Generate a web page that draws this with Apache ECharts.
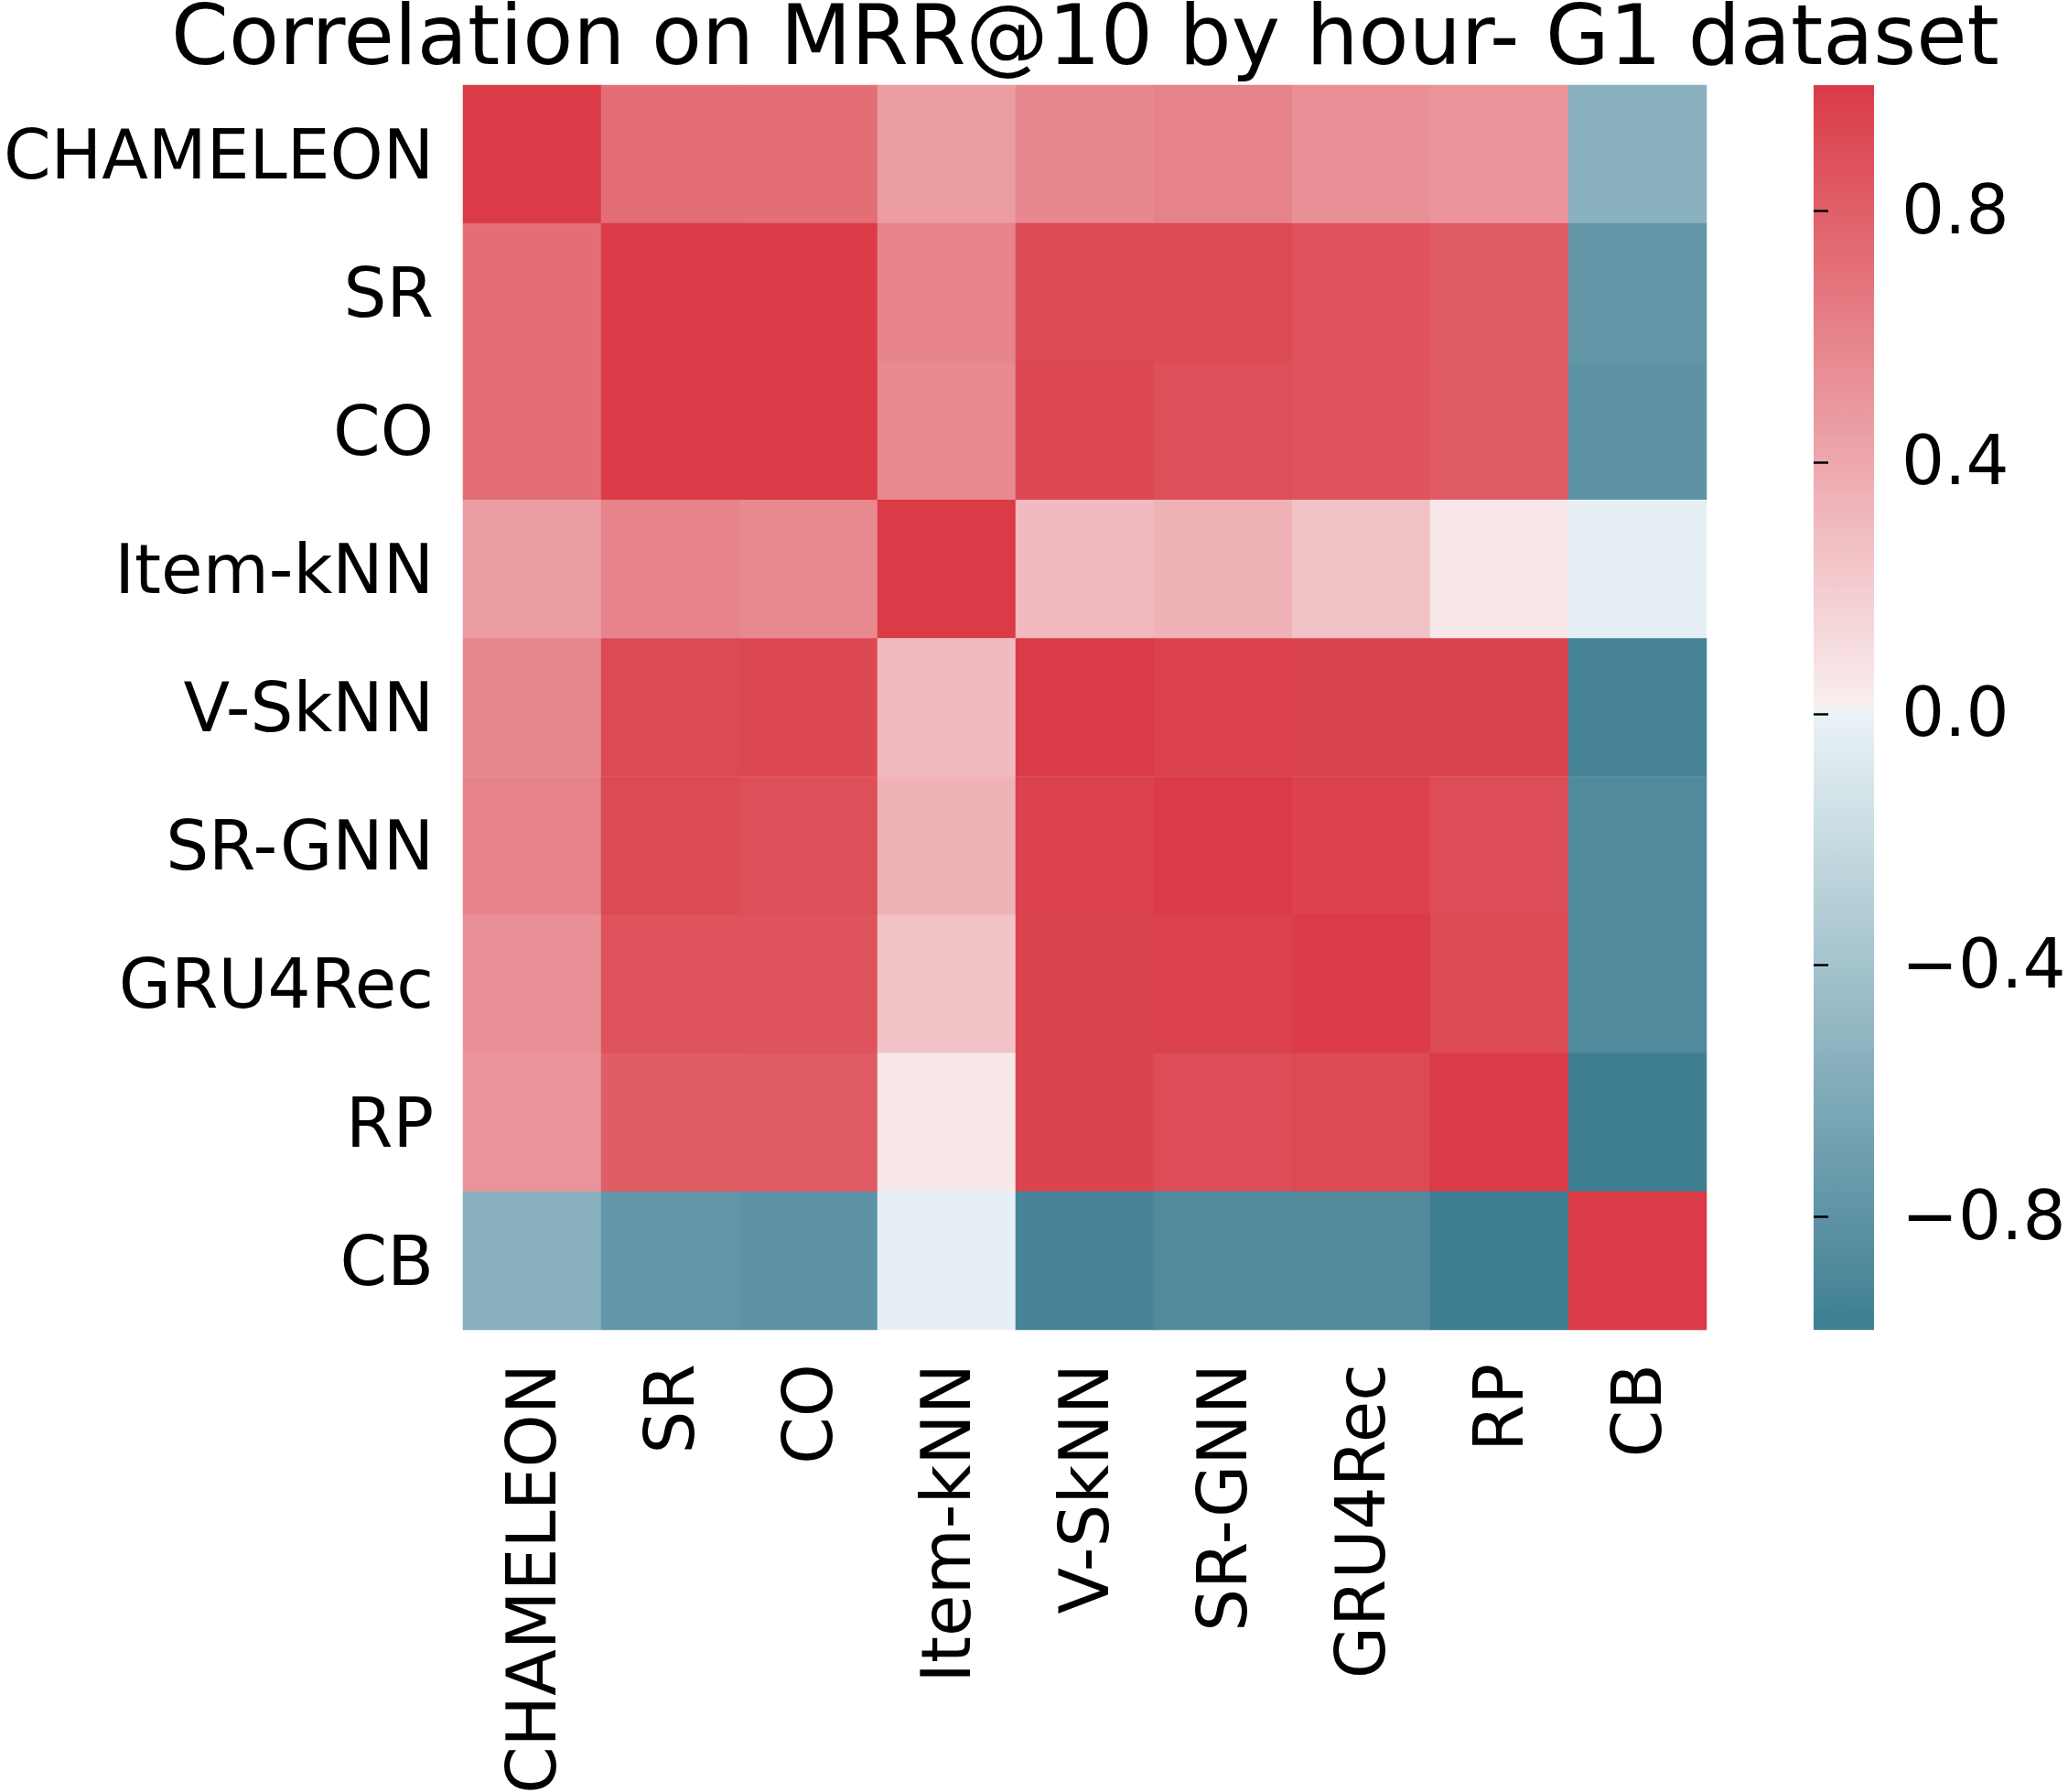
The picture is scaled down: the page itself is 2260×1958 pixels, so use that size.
<!DOCTYPE html>
<html style="height: 100%">

<head>
  <meta charset="utf-8">
</head>

<body style="height: 100%; margin: 0; background: #ffffff">
  <div id="container" style="height: 100%"></div>
  <script type="text/javascript" src="https://cdn.jsdelivr.net/npm/echarts@6/dist/echarts.min.js"></script>
  <script type="text/javascript">
    var methods = ['CHAMELEON', 'SR', 'CO', 'Item-kNN', 'V-SkNN', 'SR-GNN', 'GRU4Rec', 'RP', 'CB'];

    // correlation rows, same order as methods
    var rowChameleon = [1.00, 0.72, 0.72, 0.46, 0.58, 0.61, 0.53, 0.51, -0.55];
    var rowSR        = [0.72, 1.00, 0.99, 0.60, 0.92, 0.92, 0.87, 0.81, -0.77];
    var rowCO        = [0.72, 0.99, 1.00, 0.57, 0.93, 0.89, 0.87, 0.82, -0.80];
    var rowItemKNN   = [0.46, 0.60, 0.57, 1.00, 0.30, 0.34, 0.25, 0.05, -0.02];
    var rowVSkNN     = [0.58, 0.92, 0.93, 0.30, 1.00, 0.96, 0.95, 0.95, -0.93];
    var rowSRGNN     = [0.61, 0.92, 0.89, 0.34, 0.96, 1.00, 0.96, 0.90, -0.88];
    var rowGRU4Rec   = [0.53, 0.87, 0.87, 0.25, 0.95, 0.96, 1.00, 0.92, -0.88];
    var rowRP        = [0.51, 0.81, 0.82, 0.05, 0.95, 0.90, 0.92, 1.00, -0.98];
    var rowCB        = [-0.55, -0.77, -0.80, -0.02, -0.93, -0.88, -0.88, -0.98, 1.00];

    var colorbarTicks = [-0.8, -0.4, 0, 0.4, 0.8];
    var colorMin = -0.98;
    var colorMax = 1.0;

    var corr = [rowChameleon, rowSR, rowCO, rowItemKNN, rowVSkNN, rowSRGNN, rowGRU4Rec, rowRP, rowCB];

    // diverging palette 220 -> 10, light centre (two rgb ramps + grey middle)
    var blueEnd = [62, 126, 146];
    var blueLight = [234, 243, 246];
    var midGrey = [242, 242, 242];
    var redLight = [249, 237, 238];
    var redEnd = [218, 59, 70];

    function mix(a, b, t) {
      var c = [];
      for (var k = 0; k < 3; k++) c.push(Math.round(a[k] + (b[k] - a[k]) * t));
      return 'rgb(' + c.join(',') + ')';
    }

    var cmap = [];
    for (var i = 0; i < 127; i++) cmap.push(mix(blueEnd, blueLight, i / 126));
    cmap.push(mix(midGrey, midGrey, 0));
    for (var i = 0; i < 127; i++) cmap.push(mix(redLight, redEnd, i / 126));

    var barStops = [];
    for (var i = cmap.length - 1; i >= 0; i--) {
      barStops.push({ offset: 1 - i / (cmap.length - 1), color: cmap[i] });
    }

    var cells = [];
    for (var r = 0; r < methods.length; r++) {
      for (var c = 0; c < methods.length; c++) {
        cells.push([c, r, corr[r][c]]);
      }
    }

    var font = 'DejaVu Sans';
    // rich styles: top padding nudges the glyphs to sit like matplotlib's labels
    function labelStyle(pad) {
      return { fontFamily: font, fontSize: 74, color: '#000', padding: [pad, 0, 0, 0] };
    }

    var dom = document.getElementById('container');
    var myChart = echarts.init(dom);

    var option = {
      backgroundColor: '#ffffff',
      animation: false,
      title: {
        text: 'Correlation on MRR@10 by hour- G1 dataset',
        left: 1186,
        top: 2,
        padding: 0,
        textAlign: 'center',
        textStyle: { fontFamily: font, fontSize: 90, fontWeight: 'normal', color: '#000' }
      },
      grid: [
        { left: 506, top: 93, width: 1359, height: 1360, containLabel: false, outerBoundsMode: 'none' },
        {
          left: 1982, top: 93, width: 66, height: 1360, show: true, borderWidth: 0,
          containLabel: false, outerBoundsMode: 'none',
          backgroundColor: { type: 'linear', x: 0, y: 0, x2: 0, y2: 1, colorStops: barStops }
        }
      ],
      xAxis: [
        {
          type: 'category',
          gridIndex: 0,
          data: methods,
          axisLine: { show: false },
          axisTick: { alignWithLabel: true, length: 14, lineStyle: { color: '#000', width: 2.5 } },
          axisLabel: {
            interval: 0, rotate: 90, margin: 37,
            fontFamily: font, fontSize: 74, color: '#000',
            formatter: function (v) { return '{t|' + v + '}'; },
            rich: { t: labelStyle(12) }
          },
          splitLine: { show: false }
        },
        { type: 'value', gridIndex: 1, show: false, min: 0, max: 1 }
      ],
      yAxis: [
        {
          type: 'category',
          gridIndex: 0,
          data: methods,
          inverse: true,
          axisLine: { show: false },
          axisTick: { alignWithLabel: true, length: 14, lineStyle: { color: '#000', width: 2.5 } },
          axisLabel: {
            interval: 0, margin: 32,
            fontFamily: font, fontSize: 74, color: '#000',
            formatter: function (v) { return '{t|' + v + '}'; },
            rich: { t: labelStyle(14) }
          },
          splitLine: { show: false }
        },
        {
          type: 'value',
          gridIndex: 1,
          position: 'right',
          min: colorMin,
          max: colorMax,
          axisLine: { show: false },
          axisTick: { show: true, length: 16, customValues: colorbarTicks, lineStyle: { color: '#000', width: 2.5 } },
          axisLabel: {
            margin: 30,
            customValues: colorbarTicks,
            fontFamily: font,
            fontSize: 74,
            color: '#000',
            formatter: function (v) { return '{t|' + v.toFixed(1).replace('-', '\u2212') + '}'; },
            rich: { t: labelStyle(10) }
          },
          splitLine: { show: false }
        }
      ],
      visualMap: {
        show: false,
        type: 'continuous',
        min: colorMin,
        max: colorMax,
        seriesIndex: 0,
        inRange: { color: cmap }
      },
      series: [
        {
          type: 'heatmap',
          xAxisIndex: 0,
          yAxisIndex: 0,
          data: cells,
          itemStyle: { borderWidth: 0 },
          emphasis: { disabled: true }
        }
      ]
    };

    myChart.setOption(option);
  </script>
</body>

</html>
